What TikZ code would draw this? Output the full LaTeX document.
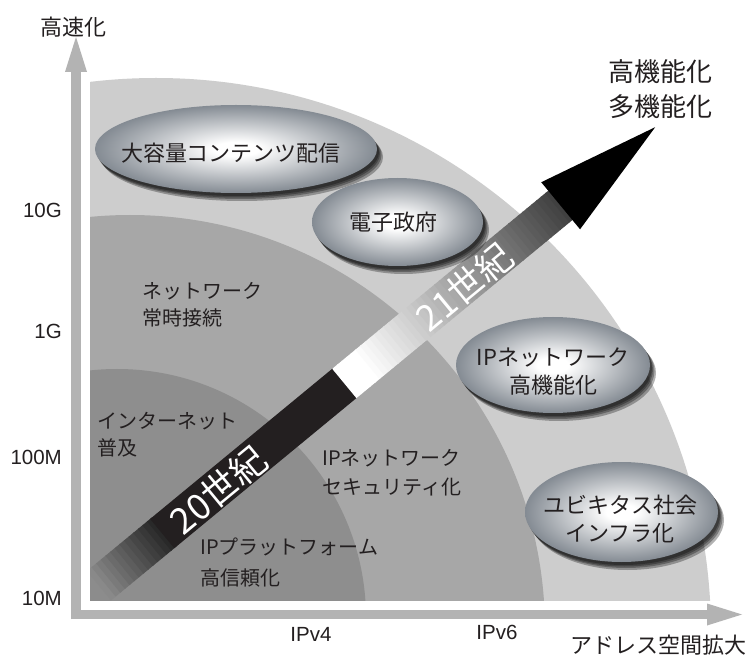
\documentclass[tikz,border=0pt]{standalone}
\usepackage{fontspec}
\setmainfont{Noto Sans CJK JP}
\newfontfamily\latf{Liberation Sans}
\usetikzlibrary{arrows.meta}
\definecolor{axisgray}{RGB}{179,179,179}
\definecolor{outerg}{RGB}{205,205,205}
\definecolor{midg}{RGB}{167,167,167}
\definecolor{innerg}{RGB}{142,142,142}
\definecolor{ink}{RGB}{35,31,32}
\definecolor{bubedge}{RGB}{132,139,147}
\pgfdeclareradialshading{bubble}{\pgfpoint{0bp}{0bp}}{color(0bp)=(white); color(4bp)=(white); color(25bp)=(bubedge); color(50bp)=(bubedge)}
\newcommand{\mybubble}[4]{%
  \foreach \dx/\dy in {2/3,3/4.5,4.5/6,6/8}{\fill[black,opacity=0.3] (#1+\dx,#2+\dy) ellipse[x radius=#3, y radius=#4];}
  \shade[shading=bubble] (#1,#2) ellipse[x radius=#3, y radius=#4];}
\begin{document}
\begin{tikzpicture}[x=1pt,y=-1pt,
  axisline/.style={draw=axisgray, line width=9.5pt, -{Triangle[width=22pt,length=35pt,line width=0pt]}},
  axtext/.style={font=\latf\fontsize{20.5}{24}\selectfont, text=ink, inner sep=0pt},
  jtext/.style={font=\fontsize{22}{26}\selectfont, text=ink, inner sep=0pt},
  rtext/.style={font=\fontsize{20}{27}\selectfont, text=ink, inner sep=0pt, anchor=west, align=left},
  btext/.style={font=\fontsize{22}{28}\selectfont, text=ink, inner sep=0pt, align=center},
  arrowtext/.style={font=\fontsize{36}{40}\selectfont, text=white, inner sep=0pt, rotate=39.5}]
\useasboundingbox (0,0) rectangle (748,655);
\fill[white] (0,0) rectangle (748,655);

% regions
\begin{scope}
  \clip (90,0) rectangle (748,600);
  \fill[outerg] (156,633) circle[radius=555];
  \fill[midg] (130,630) circle[radius=415];
  \fill[innerg] (117,618) circle[radius=249];
\end{scope}

% axes
\coordinate (yorig) at (76,619);
\coordinate (ytip) at (76,37);
\coordinate (xorig) at (71,614.5);
\coordinate (xtip) at (742,614.5);
\draw[axisline] (yorig) -- (ytip);
\draw[axisline] (xorig) -- (xtip);

% big arrow
\begin{scope}
  \clip (90,0) rectangle (748,600);
  \begin{scope}[shift={(97.4,587)}, rotate=39.5]
    \foreach \t in {-40,-34,...,84}{
      \pgfmathtruncatemacro\g{140-105*max(0,min(1,\t/85))}
      \fill[fill={rgb,255:red,\g;green,\g;blue,\g}] (\t,-19) -- (\t+7,-19) -- (\t+7,19) -- (\t,19) -- cycle;
    }
    \fill[ink] (84,-19) -- (321,-19) -- (321,19) -- (84,19) -- cycle;
    \foreach \t in {320,326,...,602}{
      \pgfmathtruncatemacro\g{255-195*max(0,min(1,(\t-345)/257))}
      \fill[fill={rgb,255:red,\g;green,\g;blue,\g}] (\t,-19) -- (\t+7,-19) -- (\t+7,19) -- (\t,19) -- cycle;
    }
    \coordinate (headA) at (600,-30);
    \coordinate (headB) at (600,31);
    \coordinate (headtip) at (723,0);
    \fill[black] (headA) -- (headtip) -- (headB) -- cycle;
    \node[arrowtext] (c20) at (155,2) {20世紀};
    \node[arrowtext] (c21) at (474,2) {21世紀};
  \end{scope}
\end{scope}

% bubbles
\mybubble{236}{149}{141}{44}
\mybubble{397.5}{222}{85.5}{44}
\mybubble{553}{365}{97}{48}
\mybubble{621.5}{512}{96.5}{50}

\node[jtext] (b1) at (231,153) {大容量コンテンツ配信};
\node[jtext] (b2) at (393,222) {電子政府};
\node[btext] (b3) at (553,372) {IPネットワーク\\高機能化};
\node[btext] (b4) at (620,519.5) {ユビキタス社会\\インフラ化};

% region labels
\node[rtext] (r1) at (142,304.5) {ネットワーク\\常時接続};
\node[rtext] (r2) at (97,434.5) {インターネット\\普及};
\node[rtext, font=\fontsize{20}{29}\selectfont] (r3) at (322,472.5) {IPネットワーク\\セキュリティ化};
\node[rtext, font=\fontsize{20}{31}\selectfont] (r4) at (200,562.5) {IPプラットフォーム\\高信頼化};

% top right label
\node[btext, font=\fontsize{26}{35}\selectfont] (goal) at (660,89.5) {高機能化\\多機能化};

% axis labels
\node[jtext] (ylab) at (74,27) {高速化};
\node[jtext, anchor=east] (xlab) at (747,645) {アドレス空間拡大};
\node[axtext, anchor=east] (t10g) at (62,210.5) {10G};
\node[axtext, anchor=east] (t1g) at (62,331.5) {1G};
\node[axtext, anchor=east] (t100m) at (62,457.5) {100M};
\node[axtext, anchor=east] (t10m) at (62,598.5) {10M};
\node[axtext] (ipv4) at (311,634) {IPv4};
\node[axtext] (ipv6) at (497,632) {IPv6};
\end{tikzpicture}
\end{document}
